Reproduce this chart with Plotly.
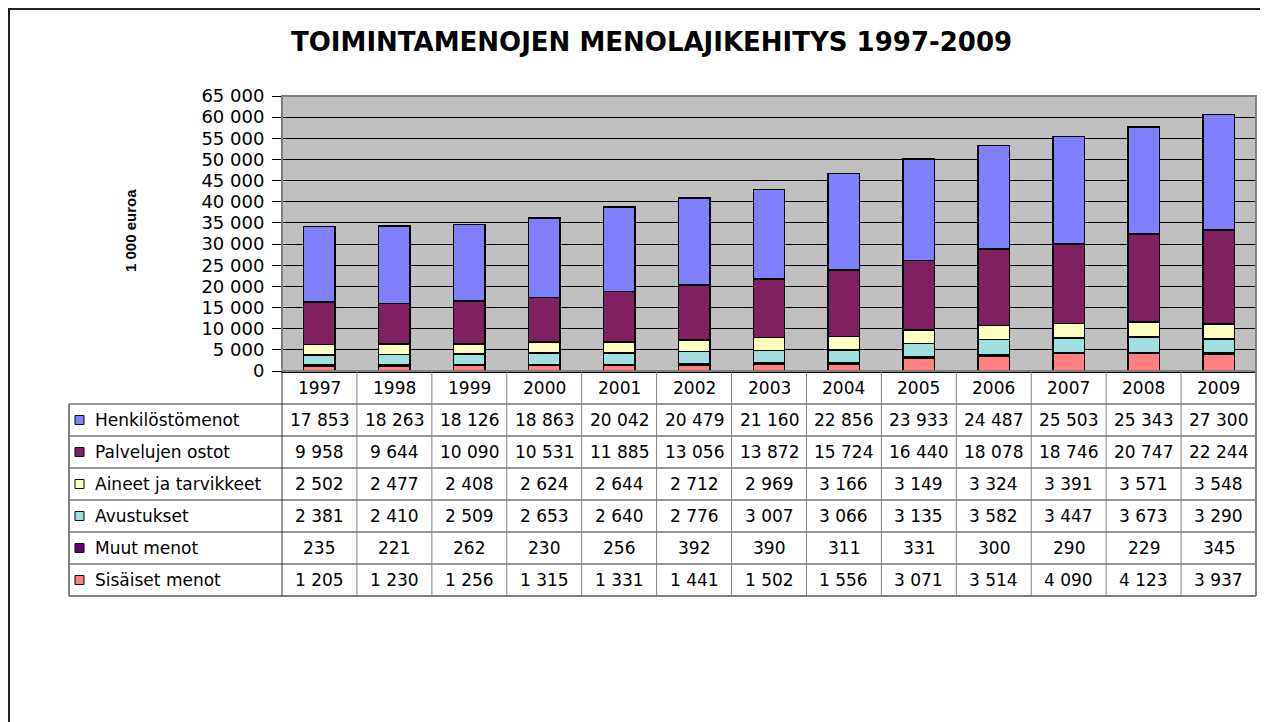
import plotly.graph_objects as go

years = ["1997", "1998", "1999", "2000", "2001", "2002", "2003", "2004", "2005", "2006", "2007", "2008", "2009"]

henkilosto = [17853, 18263, 18126, 18863, 20042, 20479, 21160, 22856, 23933, 24487, 25503, 25343, 27300]
palvelujen = [9958, 9644, 10090, 10531, 11885, 13056, 13872, 15724, 16440, 18078, 18746, 20747, 22244]
aineet = [2502, 2477, 2408, 2624, 2644, 2712, 2969, 3166, 3149, 3324, 3391, 3571, 3548]
avustukset = [2381, 2410, 2509, 2653, 2640, 2776, 3007, 3066, 3135, 3582, 3447, 3673, 3290]
muut = [235, 221, 262, 230, 256, 392, 390, 311, 331, 300, 290, 229, 345]
sisaiset = [1205, 1230, 1256, 1315, 1331, 1441, 1502, 1556, 3071, 3514, 4090, 4123, 3937]

# table order (top to bottom); stacking order is the reverse (bottom to top)
table_names = ["Henkilöstömenot", "Palvelujen ostot", "Aineet ja tarvikkeet", "Avustukset", "Muut menot", "Sisäiset menot"]
table_values = [henkilosto, palvelujen, aineet, avustukset, muut, sisaiset]
colors = ["#8080FF", "#802060", "#FFFFC0", "#A0E0E0", "#600080", "#FF8080"]

title_text = "TOIMINTAMENOJEN MENOLAJIKEHITYS 1997-2009"
y_title = "1 000 euroa"

OFF = 8  # page body margin
W, H = 1268 - OFF, 722 - OFF
# plot area in screen pixels
SL, SR, ST, SB = 282, 1256, 96, 371
PL, PR, PT, PB = SL - OFF, SR - OFF, ST - OFF, SB - OFF


def px(x):
    return (x - OFF - PL) / (PR - PL)


def py(y):
    return (PB - (y - OFF)) / (PB - PT)


fig = go.Figure()
for name, vals, col in reversed(list(zip(table_names, table_values, colors))):
    fig.add_trace(go.Bar(
        x=years, y=vals, name=name,
        marker=dict(color=col, line=dict(color="black", width=1.5)),
        showlegend=False,
    ))

FONT = "DejaVu Sans"
shapes = []
annotations = []

# outer chart border (left / top visible)
shapes.append(dict(type="rect", xref="paper", yref="paper",
                   x0=px(OFF + 1), x1=px(1320), y0=py(780), y1=py(OFF + 1),
                   line=dict(color="#222222", width=2), layer="below"))
# plot area border
shapes.append(dict(type="rect", xref="paper", yref="paper",
                   x0=0, x1=1, y0=0, y1=1,
                   line=dict(color="#808080", width=2)))

# table geometry (screen pixels)
header_top, header_h, row_h = SB, 33, 32
row_tops = [header_top + header_h + i * row_h for i in range(len(table_names) + 1)]
tbl_left = 69
ncol = len(years)
colw = (SR - SL) / ncol

for i, yy in enumerate(row_tops):
    last = i == len(row_tops) - 1
    shapes.append(dict(type="line", xref="paper", yref="paper",
                       x0=px(tbl_left), x1=px(SR), y0=py(yy), y1=py(yy),
                       line=dict(color="#808080" if last else "#303030", width=2 if last else 1)))
shapes.append(dict(type="line", xref="paper", yref="paper",
                   x0=px(tbl_left), x1=px(tbl_left), y0=py(row_tops[0]), y1=py(row_tops[-1]),
                   line=dict(color="#808080", width=2)))
for j in range(ncol + 1):
    xx = SL + j * colw
    outer = j == ncol
    shapes.append(dict(type="line", xref="paper", yref="paper",
                       x0=px(xx), x1=px(xx), y0=py(header_top), y1=py(row_tops[-1]),
                       line=dict(color="#303030" if j == 0 else "#808080", width=2 if outer else 1)))

# header years
for k, yv in enumerate(years):
    annotations.append(dict(x=k, xref="x", y=py(header_top + header_h / 2), yref="paper",
                            text=yv, showarrow=False, xanchor="center", yanchor="middle",
                            font=dict(family=FONT, size=17, color="black")))

# rows
for i, (name, vals, col) in enumerate(zip(table_names, table_values, colors)):
    cy = row_tops[i] + row_h / 2
    shapes.append(dict(type="rect", xref="paper", yref="paper",
                       x0=px(75), x1=px(84), y0=py(cy + 4.5), y1=py(cy - 4.5),
                       fillcolor=col, line=dict(color="black", width=1)))
    annotations.append(dict(x=px(93), xref="paper", y=py(cy), yref="paper",
                            text=name, showarrow=False, xanchor="left", yanchor="middle",
                            font=dict(family=FONT, size=17, color="black")))
    for k, v in enumerate(vals):
        annotations.append(dict(x=k, xref="x", y=py(cy), yref="paper",
                                text=f"{v:,}".replace(",", " "), showarrow=False,
                                xanchor="center", yanchor="middle",
                                font=dict(family=FONT, size=17, color="black")))

# title
annotations.append(dict(x=px(651), xref="paper", y=py(42), yref="paper",
                        text=f"<b>{title_text}</b>", showarrow=False,
                        xanchor="center", yanchor="middle",
                        font=dict(family=FONT, size=26, color="black")))
# y axis title
annotations.append(dict(x=px(130), xref="paper", y=py(231), yref="paper",
                        text=f"<b>{y_title}</b>", showarrow=False, textangle=-90,
                        xanchor="center", yanchor="middle",
                        font=dict(family="Liberation Sans", size=15, color="black")))

fig.update_layout(
    width=W, height=H,
    margin=dict(l=PL, r=W - PR, t=PT, b=H - PB, pad=0),
    barmode="stack", bargap=0.58,
    plot_bgcolor="#C0C0C0", paper_bgcolor="white",
    separators=". ",
    shapes=shapes, annotations=annotations,
    showlegend=False,
)
fig.update_xaxes(type="category", categoryorder="array", categoryarray=years,
                 range=[-0.5, len(years) - 0.5], showticklabels=False,
                 showline=True, linecolor="black", linewidth=2, ticks="", showgrid=False)
fig.update_yaxes(range=[0, 65000], dtick=5000, tick0=0, tickformat=",d",
                 showgrid=True, gridcolor="black", gridwidth=1, zeroline=False,
                 showline=True, linecolor="#555555", linewidth=1,
                 ticks="outside", ticklen=9, tickcolor="black", tickwidth=1,
                 ticklabelstandoff=4,
                 tickfont=dict(family=FONT, size=18, color="black"))

fig.write_html("out.html")
